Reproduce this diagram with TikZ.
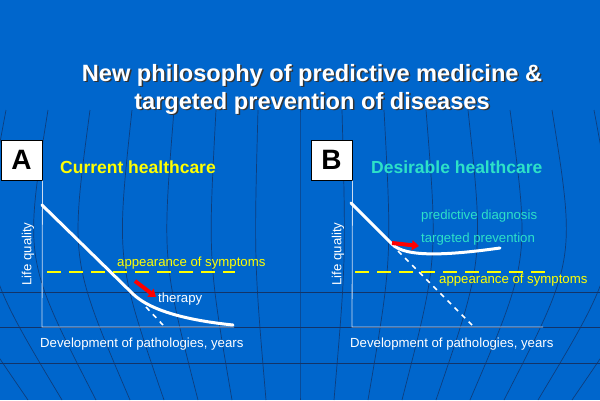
\documentclass[tikz,border=0pt]{standalone}
\usepackage{fontspec}
\setmainfont{Liberation Sans}
\usetikzlibrary{arrows.meta,positioning,calc}
\definecolor{slideblue}{RGB}{0,102,204}
\definecolor{gridblue}{RGB}{18,52,105}
\definecolor{symyellow}{RGB}{255,255,0}
\definecolor{prevcyan}{RGB}{45,225,200}
\definecolor{axisgray}{RGB}{205,220,240}

\begin{document}
\begin{tikzpicture}[x=1pt,y=-1pt,
    panelbox/.style={draw=black,fill=white,line width=1pt,minimum width=41pt,minimum height=40pt,inner sep=0pt,font=\fontsize{28}{30}\selectfont\bfseries},
    heading/.style={font=\fontsize{17.5}{20}\selectfont\bfseries,inner sep=0pt,anchor=west},
    lbl/.style={font=\fontsize{13.2}{15}\selectfont,inner sep=0pt},
    axis/.style={draw=axisgray,line width=0.8pt},
    lifecurve/.style={draw=white,line width=3pt,line cap=round},
    projection/.style={draw=white,line width=1.6pt,dash pattern=on 5pt off 5pt},
    threshold/.style={draw=symyellow,line width=2.5pt,dash pattern=on 14pt off 8pt},
    action/.style={-{Triangle[length=7pt,width=10pt]},draw=red,line width=4pt},
    gridline/.style={draw=gridblue,line width=0.7pt}
  ]
  \useasboundingbox (0,0) rectangle (600,400);
  \fill[slideblue] (0,0) rectangle (600,400);

  % globe in the background
  \begin{scope}
    \clip (0,0) rectangle (600,400);
    \foreach \k in {-8,...,8}
      \draw[gridline,opacity=0.8] ({300+\k*42},110) .. controls ({300+\k*46},260) .. ({300+\k*34},400);
    \foreach \y in {292,327,363}
      \draw[gridline] (0,\y) -- (600,\y);
  \end{scope}

  % title
  \node[font=\fontsize{23.6}{28}\selectfont\bfseries,align=center,text=black!80] (titleshadow) at (313.5,90.5)
    {New philosophy of predictive medicine \&\\targeted prevention of diseases};
  \node[font=\fontsize{23.6}{28}\selectfont\bfseries,align=center,text=white] (title) at (312,89)
    {New philosophy of predictive medicine \&\\targeted prevention of diseases};

  % A: current healthcare
  \node[panelbox] (boxA) at (21.5,160) {A};
  \node[heading,text=symyellow] (headA) at (60,167) {Current healthcare};
  \coordinate (originA) at (42,327);
  \draw[axis] (boxA.south east) -- (originA) -- (234,327);
  \draw[threshold] (47,272) -- (235,272);
  \draw[projection] (146,307) -- (163,325);
  \draw[lifecurve] (42,205) -- (132,293) .. controls (142,303) and (165,318) .. (233,325);
  \coordinate (therapyTail) at (135,281);
  \coordinate (therapyTip) at (156,297);
  \draw[action] (therapyTail) -- (therapyTip);
  \node[lbl,text=symyellow,anchor=west] (sympA) at (117,263) {appearance of symptoms};
  \node[lbl,text=white,anchor=west] (therapy) at (158,299) {therapy};
  \node[lbl,text=white,rotate=90] (yA) at (28,254) {Life quality};
  \node[lbl,text=white,anchor=west] (xA) at (40,344) {Development of pathologies, years};

  % B: desirable healthcare
  \node[panelbox] (boxB) at (331.5,160) {B};
  \node[heading,text=prevcyan] (headB) at (371,167) {Desirable healthcare};
  \coordinate (originB) at (352,327);
  \draw[axis] (boxB.south east) -- (originB) -- (543,327);
  \draw[threshold] (355,272) -- (545,272);
  \draw[projection] (398,251) -- (472,325);
  \draw[lifecurve] (351,203) -- (392,244) .. controls (405,258) and (450,255) .. (500,248);
  \coordinate (preventTail) at (392,243);
  \coordinate (preventTip) at (419,246);
  \draw[action] (preventTail) -- (preventTip);
  \node[lbl,text=prevcyan,anchor=west] (predict) at (421,216) {predictive diagnosis};
  \node[lbl,text=prevcyan,anchor=west] (prevent) at (421,239) {targeted prevention};
  \node[lbl,text=symyellow,anchor=west] (sympB) at (439,280) {appearance of symptoms};
  \node[lbl,text=white,rotate=90] (yB) at (338,254) {Life quality};
  \node[lbl,text=white,anchor=west] (xB) at (350,344) {Development of pathologies, years};
\end{tikzpicture}
\end{document}
